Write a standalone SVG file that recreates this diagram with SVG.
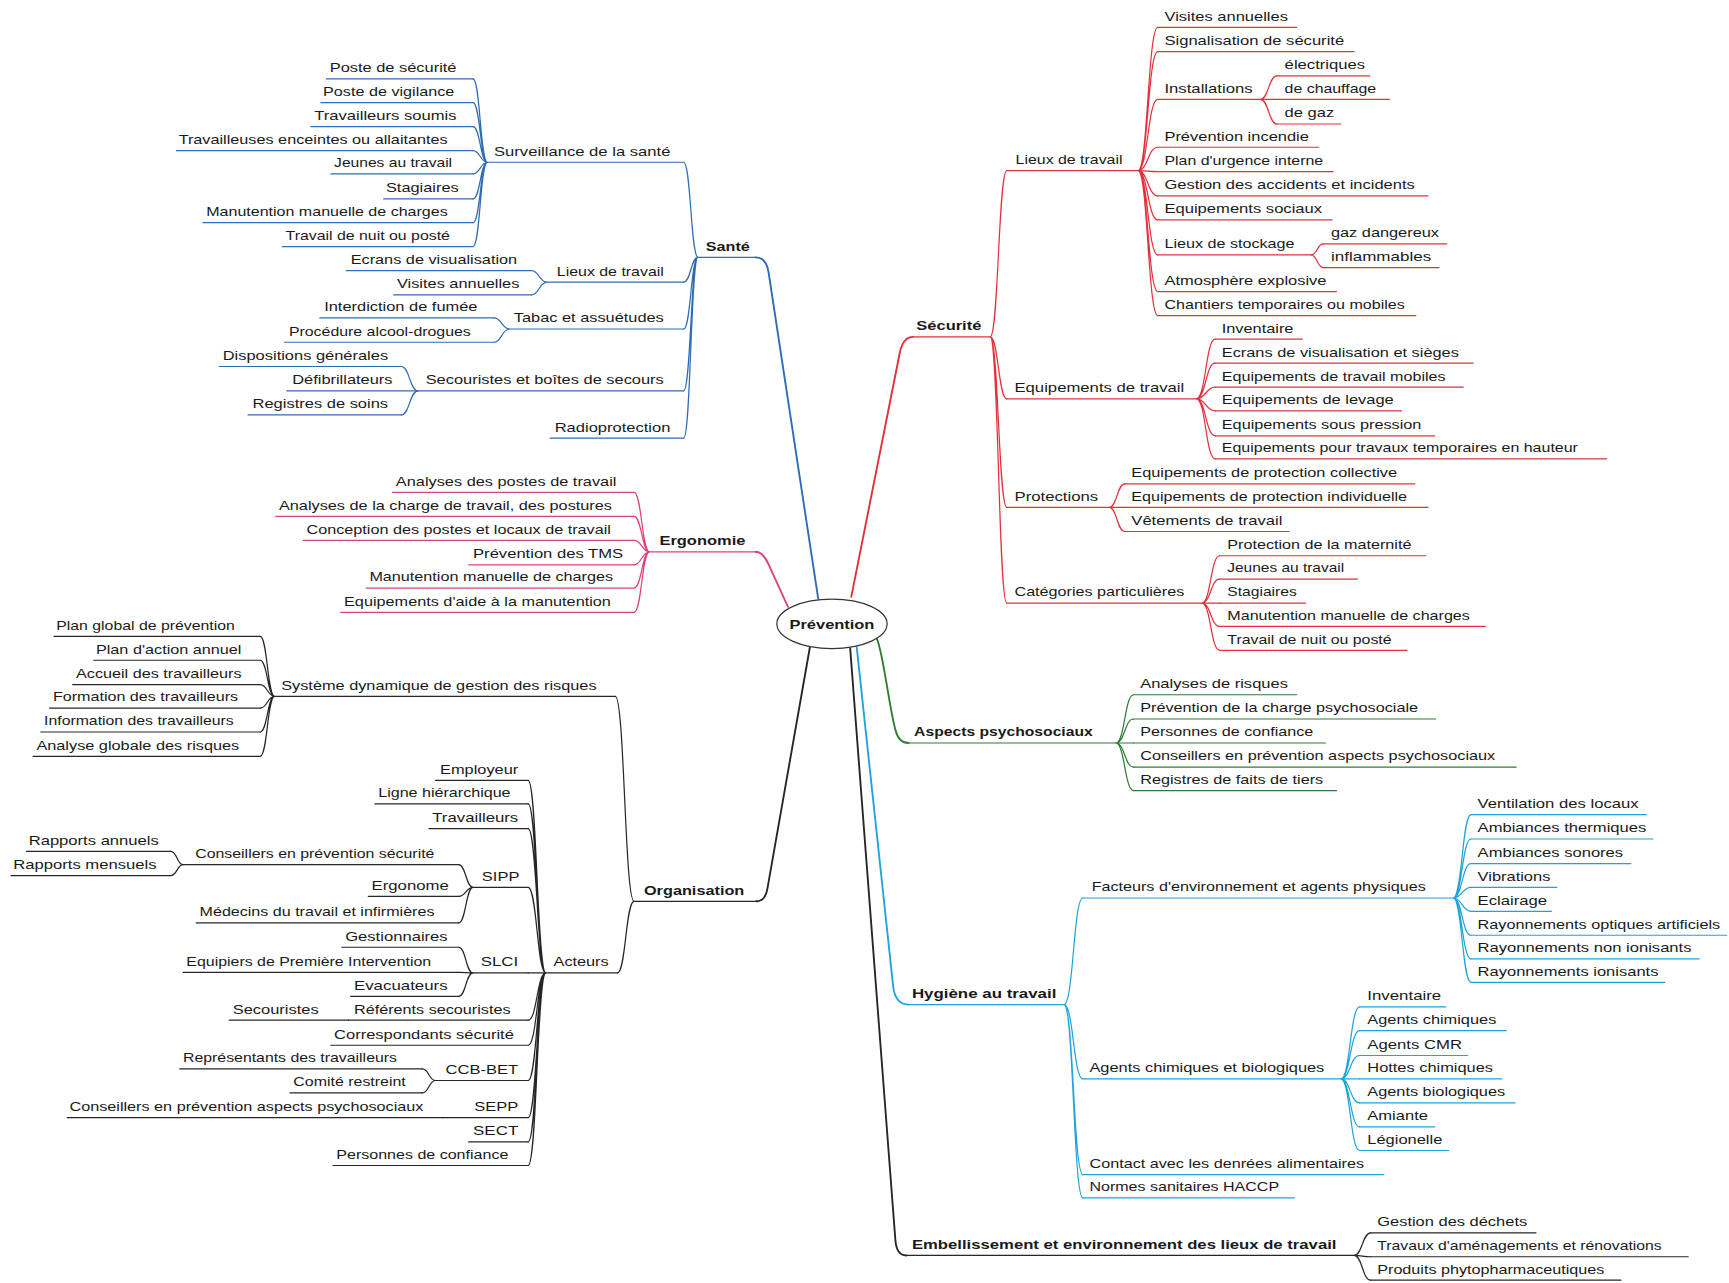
<svg xmlns="http://www.w3.org/2000/svg" width="1729" height="1283" viewBox="0 0 1729 1283">
<style>
text{font-family:"Liberation Sans",Arial,sans-serif;font-size:12.3px;fill:#1a1a1a}
.h{font-weight:bold}
path{fill:none;stroke-width:1.1;stroke-linecap:round}
.bl path,path.bl{stroke:#2e6db4}
.pk path,path.pk{stroke:#e0417e}
.kk path,path.kk{stroke:#262626}
.rd path,path.rd{stroke:#e3303b}
.gr path,path.gr{stroke:#2f7d35}
.cy path,path.cy{stroke:#1ea3dc}
path.m{stroke-width:1.7}
</style>
<rect width="1729" height="1283" fill="#fff"/>
<g transform="scale(1.10268,1.10223)">
<g id="connectors">
<path class="bl m" d="M685,233.5 Q695,233.5 697,247 L742,543"/>
<path class="pk m" d="M685,500.6 Q692,500.6 697,512 L714.6,550.5"/>
<path class="kk m" d="M686,817.7 Q694,817.7 696,806 L734.5,587"/>
<path class="rd m" d="M772,541.5 L816,320 Q819,305.6 828,305.6"/>
<path class="gr m" d="M795,579 C801,592 806,640 812,662 Q815,674.1 824,674.1"/>
<path class="kk m" d="M771,588 L812,1125 Q813,1139 822,1139"/>
<path class="cy m" d="M777,587.5 L810,895 Q812,911.4 824,911.4"/>
<!-- Santé -->
<path class="bl" d="M620,147.2C626.5,147.2 626.5,233.5 633,233.5M620,256C626.5,256 626.5,233.5 633,233.5M620,298.5C626.5,298.5 626.5,233.5 633,233.5M620,354.6C626.5,354.6 626.5,233.5 633,233.5M620,397.5C626.5,397.5 626.5,233.5 633,233.5"/>
<path class="bl" d="M429,71.6C435.5,71.6 435.5,147.2 442,147.2M429,93.1C435.5,93.1 435.5,147.2 442,147.2M429,114.9C435.5,114.9 435.5,147.2 442,147.2M429,136.7C435.5,136.7 435.5,147.2 442,147.2M429,157.8C435.5,157.8 435.5,147.2 442,147.2M429,180.5C435.5,180.5 435.5,147.2 442,147.2M429,202C435.5,202 435.5,147.2 442,147.2M429,223.7C435.5,223.7 435.5,147.2 442,147.2"/>
<path class="bl" d="M482,245.5C489,245.5 489,256 496,256M482,267.5C489,267.5 489,256 496,256M448,288.4C455,288.4 455,298.5 462,298.5M448,310.5C455,310.5 455,298.5 462,298.5M364,332.5C371.5,332.5 371.5,354.6 379,354.6M364,376.4C371.5,376.4 371.5,354.6 379,354.6"/>
<!-- Ergonomie -->
<path class="pk" d="M575,446.8C582,446.8 582,500.6 589,500.6M575,468.5C582,468.5 582,500.6 589,500.6M575,490.3C582,490.3 582,500.6 589,500.6M575,512.4C582,512.4 582,500.6 589,500.6M575,533.5C582,533.5 582,500.6 589,500.6M575,555.6C582,555.6 582,500.6 589,500.6"/>
<!-- Organisation -->
<path class="kk" d="M558,631.8C566.5,631.8 566.5,817.7 575,817.7M560,882.7C567.5,882.7 567.5,817.7 575,817.7"/>
<path class="kk" d="M236,577.4C242.5,577.4 242.5,631.8 249,631.8M236,599C242.5,599 242.5,631.8 249,631.8M236,621.2C242.5,621.2 242.5,631.8 249,631.8M236,642.4C242.5,642.4 242.5,631.8 249,631.8M236,664.1C242.5,664.1 242.5,631.8 249,631.8M236,686.2C242.5,686.2 242.5,631.8 249,631.8"/>
<path class="kk" d="M479,708C487,708 487,882.7 495,882.7M479,729.4C487,729.4 487,882.7 495,882.7M479,751.8C487,751.8 487,882.7 495,882.7M479,805C487,805 487,882.7 495,882.7M479,882.7L495,882.7M479,925.6C487,925.6 487,882.7 495,882.7M479,948.3C487,948.3 487,882.7 495,882.7M479,980.3C487,980.3 487,882.7 495,882.7M479,1014C487,1014 487,882.7 495,882.7M479,1036C487,1036 487,882.7 495,882.7M479,1057.4C487,1057.4 487,882.7 495,882.7"/>
<path class="kk" d="M416,784.5C422.5,784.5 422.5,805 429,805M416,813.2C422.5,813.2 422.5,805 429,805M416,837.3C422.5,837.3 422.5,805 429,805M155,772.4C160.5,772.4 160.5,784.5 166,784.5M155,794.4C160.5,794.4 160.5,784.5 166,784.5M416,859.4C422.5,859.4 422.5,882.7 429,882.7M416,882.1C422.5,882.1 422.5,882.7 429,882.7M416,903.9C422.5,903.9 422.5,882.7 429,882.7M383,969.7C389,969.7 389,980.3 395,980.3M383,991.5C389,991.5 389,980.3 395,980.3"/>
<!-- Sécurité -->
<path class="rd" d="M898,305.6C905.5,305.6 905.5,154.8 913,154.8M898,305.6C905.5,305.6 905.5,361.8 913,361.8M898,305.6C905.5,305.6 905.5,460.4 913,460.4M898,305.6C905.5,305.6 905.5,547.1 913,547.1"/>
<path class="rd" d="M1032,154.8C1041,154.8 1041,24.8 1050,24.8M1032,154.8C1041,154.8 1041,46.9 1050,46.9M1032,154.8C1041,154.8 1041,90.1 1050,90.1M1032,154.8C1041,154.8 1041,133.6 1050,133.6M1032,154.8C1041,154.8 1041,155.7 1050,155.7M1032,154.8C1041,154.8 1041,177.7 1050,177.7M1032,154.8C1041,154.8 1041,199.5 1050,199.5M1032,154.8C1041,154.8 1041,231.3 1050,231.3M1032,154.8C1041,154.8 1041,264.5 1050,264.5M1032,154.8C1041,154.8 1041,286.3 1050,286.3"/>
<path class="rd" d="M1143,90.1C1150.5,90.1 1150.5,68.9 1158,68.9M1143,90.1L1158,90.1M1143,90.1C1150.5,90.1 1150.5,112.5 1158,112.5M1189,231.3C1194.5,231.3 1194.5,221.3 1200,221.3M1189,231.3C1194.5,231.3 1194.5,242.8 1200,242.8"/>
<path class="rd" d="M1085,361.8C1093.5,361.8 1093.5,307.7 1102,307.7M1085,361.8C1093.5,361.8 1093.5,329.5 1102,329.5M1085,361.8C1093.5,361.8 1093.5,351.3 1102,351.3M1085,361.8C1093.5,361.8 1093.5,372.7 1102,372.7M1085,361.8C1093.5,361.8 1093.5,395.4 1102,395.4M1085,361.8C1093.5,361.8 1093.5,416.3 1102,416.3"/>
<path class="rd" d="M1006,460.4C1013,460.4 1013,439 1020,439M1006,460.4L1020,460.4M1006,460.4C1013,460.4 1013,482.2 1020,482.2"/>
<path class="rd" d="M1090,547.1C1098,547.1 1098,504.2 1106,504.2M1090,547.1C1098,547.1 1098,525.4 1106,525.4M1090,547.1L1106,547.1M1090,547.1C1098,547.1 1098,568.3 1106,568.3M1090,547.1C1098,547.1 1098,590 1106,590"/>
<!-- Aspects -->
<path class="gr" d="M1012,674.1C1020,674.1 1020,630.3 1028,630.3M1012,674.1C1020,674.1 1020,652.3 1028,652.3M1012,674.1L1028,674.1M1012,674.1C1020,674.1 1020,695.9 1028,695.9M1012,674.1C1020,674.1 1020,717.3 1028,717.3"/>
<!-- Hygiène -->
<path class="cy" d="M965,911.4C973.5,911.4 973.5,814.7 982,814.7M965,911.4C973.5,911.4 973.5,978.8 982,978.8M965,911.4C973.5,911.4 973.5,1065.6 982,1065.6M965,911.4C973.5,911.4 973.5,1086.7 982,1086.7"/>
<path class="cy" d="M1318,814.7C1326,814.7 1326,739.1 1334,739.1M1318,814.7C1326,814.7 1326,761.2 1334,761.2M1318,814.7C1326,814.7 1326,783.5 1334,783.5M1318,814.7C1326,814.7 1326,805 1334,805M1318,814.7C1326,814.7 1326,826.8 1334,826.8M1318,814.7C1326,814.7 1326,848.5 1334,848.5M1318,814.7C1326,814.7 1326,870 1334,870M1318,814.7C1326,814.7 1326,891.2 1334,891.2"/>
<path class="cy" d="M1216,978.8C1224.5,978.8 1224.5,913.5 1233,913.5M1216,978.8C1224.5,978.8 1224.5,935 1233,935M1216,978.8C1224.5,978.8 1224.5,957.6 1233,957.6M1216,978.8L1233,978.8M1216,978.8C1224.5,978.8 1224.5,1000.6 1233,1000.6M1216,978.8C1224.5,978.8 1224.5,1022.3 1233,1022.3M1216,978.8C1224.5,978.8 1224.5,1043.8 1233,1043.8"/>
<!-- Embellissement -->
<path class="kk" d="M1228,1139C1235.5,1139 1235.5,1118.5 1243,1118.5M1228,1139C1235.5,1139 1235.5,1140.2 1243,1140.2M1228,1139C1235.5,1139 1235.5,1161.4 1243,1161.4"/>
</g>

<g id="prevention"><ellipse cx="754.5" cy="566" rx="50" ry="22.5" fill="#fff" stroke="#333" stroke-width="1.1"/><text class="h" x="716" y="570.5" textLength="77" lengthAdjust="spacingAndGlyphs">Prévention</text></g>

<!-- SANTE -->
<g class="bl">
<g id="sante"><text class="h" x="640" y="227.5" textLength="40" lengthAdjust="spacingAndGlyphs">Santé</text><path d="M633,233.5H685"/></g>
<g id="s-surv"><text x="448" y="141.2" textLength="160" lengthAdjust="spacingAndGlyphs">Surveillance de la santé</text><path d="M442,147.2H620"/></g>
<g id="s-surv-1"><text x="299" y="65.6" textLength="115" lengthAdjust="spacingAndGlyphs">Poste de sécurité</text><path d="M296,71.6H429"/></g>
<g id="s-surv-2"><text x="293" y="87.1" textLength="119" lengthAdjust="spacingAndGlyphs">Poste de vigilance</text><path d="M291,93.1H429"/></g>
<g id="s-surv-3"><text x="285" y="108.9" textLength="129" lengthAdjust="spacingAndGlyphs">Travailleurs soumis</text><path d="M282,114.9H429"/></g>
<g id="s-surv-4"><text x="162" y="130.7" textLength="244" lengthAdjust="spacingAndGlyphs">Travailleuses enceintes ou allaitantes</text><path d="M160,136.7H429"/></g>
<g id="s-surv-5"><text x="303" y="151.8" textLength="107" lengthAdjust="spacingAndGlyphs">Jeunes au travail</text><path d="M300,157.8H429"/></g>
<g id="s-surv-6"><text x="350" y="174.5" textLength="66" lengthAdjust="spacingAndGlyphs">Stagiaires</text><path d="M348,180.5H429"/></g>
<g id="s-surv-7"><text x="187" y="196" textLength="219" lengthAdjust="spacingAndGlyphs">Manutention manuelle de charges</text><path d="M184,202H429"/></g>
<g id="s-surv-8"><text x="259" y="217.7" textLength="149" lengthAdjust="spacingAndGlyphs">Travail de nuit ou posté</text><path d="M256,223.7H429"/></g>
<g id="s-lieux"><text x="505" y="250" textLength="97" lengthAdjust="spacingAndGlyphs">Lieux de travail</text><path d="M496,256H620"/></g>
<g id="s-lieux-1"><text x="318" y="239.5" textLength="151" lengthAdjust="spacingAndGlyphs">Ecrans de visualisation</text><path d="M314,245.5H482"/></g>
<g id="s-lieux-2"><text x="360" y="261.5" textLength="111" lengthAdjust="spacingAndGlyphs">Visites annuelles</text><path d="M357,267.5H482"/></g>
<g id="s-tabac"><text x="466" y="292.5" textLength="136" lengthAdjust="spacingAndGlyphs">Tabac et assuétudes</text><path d="M462,298.5H620"/></g>
<g id="s-tabac-1"><text x="294" y="282.4" textLength="139" lengthAdjust="spacingAndGlyphs">Interdiction de fumée</text><path d="M290,288.4H448"/></g>
<g id="s-tabac-2"><text x="262" y="304.5" textLength="165" lengthAdjust="spacingAndGlyphs">Procédure alcool-drogues</text><path d="M258,310.5H448"/></g>
<g id="s-secours"><text x="386" y="348.6" textLength="216" lengthAdjust="spacingAndGlyphs">Secouristes et boîtes de secours</text><path d="M379,354.6H620"/></g>
<g id="s-secours-1"><text x="202" y="326.5" textLength="150" lengthAdjust="spacingAndGlyphs">Dispositions générales</text><path d="M199,332.5H364"/></g>
<g id="s-secours-2"><text x="265" y="348.6" textLength="91" lengthAdjust="spacingAndGlyphs">Défibrillateurs</text><path d="M260,354.6H379"/></g>
<g id="s-secours-3"><text x="229" y="370.4" textLength="123" lengthAdjust="spacingAndGlyphs">Registres de soins</text><path d="M225,376.4H364"/></g>
<g id="s-radio"><text x="503" y="391.5" textLength="105" lengthAdjust="spacingAndGlyphs">Radioprotection</text><path d="M499,397.5H620"/></g>
</g>

<!-- ERGONOMIE -->
<g class="pk">
<g id="ergonomie"><text class="h" x="598" y="494.6" textLength="78" lengthAdjust="spacingAndGlyphs">Ergonomie</text><path d="M589,500.6H685"/></g>
<g id="e-1"><text x="359" y="440.8" textLength="200" lengthAdjust="spacingAndGlyphs">Analyses des postes de travail</text><path d="M356,446.8H575"/></g>
<g id="e-2"><text x="253" y="462.5" textLength="302" lengthAdjust="spacingAndGlyphs">Analyses de la charge de travail, des postures</text><path d="M250,468.5H575"/></g>
<g id="e-3"><text x="278" y="484.3" textLength="276" lengthAdjust="spacingAndGlyphs">Conception des postes et locaux de travail</text><path d="M275,490.3H575"/></g>
<g id="e-4"><text x="429" y="506.4" textLength="136" lengthAdjust="spacingAndGlyphs">Prévention des TMS</text><path d="M425,512.4H575"/></g>
<g id="e-5"><text x="335" y="527.5" textLength="221" lengthAdjust="spacingAndGlyphs">Manutention manuelle de charges</text><path d="M332,533.5H575"/></g>
<g id="e-6"><text x="312" y="549.6" textLength="242" lengthAdjust="spacingAndGlyphs">Equipements d'aide à la manutention</text><path d="M309,555.6H575"/></g>
</g>

<!-- ORGANISATION -->
<g class="kk">
<g id="organisation"><text class="h" x="584" y="811.7" textLength="91" lengthAdjust="spacingAndGlyphs">Organisation</text><path d="M575,817.7H686"/></g>
<g id="o-sys"><text x="255" y="625.8" textLength="286" lengthAdjust="spacingAndGlyphs">Système dynamique de gestion des risques</text><path d="M249,631.8H558"/></g>
<g id="o-sys-1"><text x="51" y="571.4" textLength="162" lengthAdjust="spacingAndGlyphs">Plan global de prévention</text><path d="M49,577.4H236"/></g>
<g id="o-sys-2"><text x="87" y="593" textLength="132" lengthAdjust="spacingAndGlyphs">Plan d'action annuel</text><path d="M85,599H236"/></g>
<g id="o-sys-3"><text x="69" y="615.2" textLength="150" lengthAdjust="spacingAndGlyphs">Accueil des travailleurs</text><path d="M66,621.2H236"/></g>
<g id="o-sys-4"><text x="48" y="636.4" textLength="168" lengthAdjust="spacingAndGlyphs">Formation des travailleurs</text><path d="M45,642.4H236"/></g>
<g id="o-sys-5"><text x="40" y="658.1" textLength="172" lengthAdjust="spacingAndGlyphs">Information des travailleurs</text><path d="M37,664.1H236"/></g>
<g id="o-sys-6"><text x="33" y="680.2" textLength="184" lengthAdjust="spacingAndGlyphs">Analyse globale des risques</text><path d="M30,686.2H236"/></g>
<g id="o-acteurs"><text x="502" y="876.7" textLength="50" lengthAdjust="spacingAndGlyphs">Acteurs</text><path d="M495,882.7H560"/></g>
<g id="o-a-employeur"><text x="399" y="702" textLength="71" lengthAdjust="spacingAndGlyphs">Employeur</text><path d="M395,708H479"/></g>
<g id="o-a-ligne"><text x="343" y="723.4" textLength="120" lengthAdjust="spacingAndGlyphs">Ligne hiérarchique</text><path d="M340,729.4H479"/></g>
<g id="o-a-travailleurs"><text x="392" y="745.8" textLength="78" lengthAdjust="spacingAndGlyphs">Travailleurs</text><path d="M389,751.8H479"/></g>
<g id="o-a-sipp"><text x="437" y="799" textLength="34" lengthAdjust="spacingAndGlyphs">SIPP</text><path d="M429,805H479"/></g>
<g id="o-sipp-cps"><text x="177" y="778.5" textLength="217" lengthAdjust="spacingAndGlyphs">Conseillers en prévention sécurité</text><path d="M166,784.5H416"/></g>
<g id="o-cps-1"><text x="26" y="766.4" textLength="118" lengthAdjust="spacingAndGlyphs">Rapports annuels</text><path d="M24,772.4H155"/></g>
<g id="o-cps-2"><text x="12" y="788.4" textLength="130" lengthAdjust="spacingAndGlyphs">Rapports mensuels</text><path d="M10,794.4H155"/></g>
<g id="o-sipp-ergonome"><text x="337" y="807.2" textLength="70" lengthAdjust="spacingAndGlyphs">Ergonome</text><path d="M334,813.2H416"/></g>
<g id="o-sipp-medecins"><text x="181" y="831.3" textLength="213" lengthAdjust="spacingAndGlyphs">Médecins du travail et infirmières</text><path d="M178,837.3H416"/></g>
<g id="o-a-slci"><text x="436" y="876.7" textLength="34" lengthAdjust="spacingAndGlyphs">SLCI</text><path d="M429,882.7H479"/></g>
<g id="o-slci-1"><text x="313" y="853.4" textLength="93" lengthAdjust="spacingAndGlyphs">Gestionnaires</text><path d="M310,859.4H416"/></g>
<g id="o-slci-2"><text x="169" y="876.1" textLength="222" lengthAdjust="spacingAndGlyphs">Equipiers de Première Intervention</text><path d="M166,882.1H416"/></g>
<g id="o-slci-3"><text x="321" y="897.9" textLength="85" lengthAdjust="spacingAndGlyphs">Evacuateurs</text><path d="M318,903.9H416"/></g>
<g id="o-a-referents"><text x="321" y="919.6" textLength="142" lengthAdjust="spacingAndGlyphs">Référents secouristes</text><path d="M316,925.6H479"/></g>
<g id="o-ref-secouristes"><text x="211" y="919.6" textLength="78" lengthAdjust="spacingAndGlyphs">Secouristes</text><path d="M208,925.6H316"/></g>
<g id="o-a-correspondants"><text x="303" y="942.3" textLength="163" lengthAdjust="spacingAndGlyphs">Correspondants sécurité</text><path d="M300,948.3H479"/></g>
<g id="o-a-ccb"><text x="404" y="974.3" textLength="66" lengthAdjust="spacingAndGlyphs">CCB-BET</text><path d="M395,980.3H479"/></g>
<g id="o-ccb-1"><text x="166" y="963.7" textLength="194" lengthAdjust="spacingAndGlyphs">Représentants des travailleurs</text><path d="M163,969.7H383"/></g>
<g id="o-ccb-2"><text x="266" y="985.5" textLength="102" lengthAdjust="spacingAndGlyphs">Comité restreint</text><path d="M263,991.5H383"/></g>
<g id="o-a-sepp"><text x="430" y="1008" textLength="40" lengthAdjust="spacingAndGlyphs">SEPP</text><path d="M402,1014H479"/></g>
<g id="o-sepp-1"><text x="63" y="1008" textLength="321" lengthAdjust="spacingAndGlyphs">Conseillers en prévention aspects psychosociaux</text><path d="M61,1014H402"/></g>
<g id="o-a-sect"><text x="429" y="1030" textLength="41" lengthAdjust="spacingAndGlyphs">SECT</text><path d="M425,1036H479"/></g>
<g id="o-a-personnes"><text x="305" y="1051.4" textLength="156" lengthAdjust="spacingAndGlyphs">Personnes de confiance</text><path d="M302,1057.4H479"/></g>
</g>

<!-- SECURITE -->
<g class="rd">
<g id="securite"><text class="h" x="831" y="299.6" textLength="59" lengthAdjust="spacingAndGlyphs">Sécurité</text><path d="M828,305.6H898"/></g>
<g id="r-lieux"><text x="921" y="148.8" textLength="97" lengthAdjust="spacingAndGlyphs">Lieux de travail</text><path d="M913,154.8H1032"/></g>
<g id="r-l-1"><text x="1056" y="18.8" textLength="112" lengthAdjust="spacingAndGlyphs">Visites annuelles</text><path d="M1050,24.8H1176"/></g>
<g id="r-l-2"><text x="1056" y="40.9" textLength="163" lengthAdjust="spacingAndGlyphs">Signalisation de sécurité</text><path d="M1050,46.9H1228"/></g>
<g id="r-l-inst"><text x="1056" y="84.1" textLength="80" lengthAdjust="spacingAndGlyphs">Installations</text><path d="M1050,90.1H1143"/></g>
<g id="r-inst-1"><text x="1165" y="62.9" textLength="73" lengthAdjust="spacingAndGlyphs">électriques</text><path d="M1158,68.9H1242"/></g>
<g id="r-inst-2"><text x="1165" y="84.1" textLength="83" lengthAdjust="spacingAndGlyphs">de chauffage</text><path d="M1158,90.1H1260"/></g>
<g id="r-inst-3"><text x="1165" y="106.5" textLength="45" lengthAdjust="spacingAndGlyphs">de gaz</text><path d="M1158,112.5H1216"/></g>
<g id="r-l-3"><text x="1056" y="127.6" textLength="131" lengthAdjust="spacingAndGlyphs">Prévention incendie</text><path d="M1050,133.6H1196"/></g>
<g id="r-l-4"><text x="1056" y="149.7" textLength="144" lengthAdjust="spacingAndGlyphs">Plan d'urgence interne</text><path d="M1050,155.7H1209"/></g>
<g id="r-l-5"><text x="1056" y="171.7" textLength="227" lengthAdjust="spacingAndGlyphs">Gestion des accidents et incidents</text><path d="M1050,177.7H1295"/></g>
<g id="r-l-6"><text x="1056" y="193.5" textLength="143" lengthAdjust="spacingAndGlyphs">Equipements sociaux</text><path d="M1050,199.5H1208"/></g>
<g id="r-l-stock"><text x="1056" y="225.3" textLength="118" lengthAdjust="spacingAndGlyphs">Lieux de stockage</text><path d="M1050,231.3H1189"/></g>
<g id="r-stock-1"><text x="1207" y="215.3" textLength="98" lengthAdjust="spacingAndGlyphs">gaz dangereux</text><path d="M1200,221.3H1312"/></g>
<g id="r-stock-2"><text x="1207" y="236.8" textLength="91" lengthAdjust="spacingAndGlyphs">inflammables</text><path d="M1200,242.8H1305"/></g>
<g id="r-l-7"><text x="1056" y="258.5" textLength="147" lengthAdjust="spacingAndGlyphs">Atmosphère explosive</text><path d="M1050,264.5H1212"/></g>
<g id="r-l-8"><text x="1056" y="280.3" textLength="218" lengthAdjust="spacingAndGlyphs">Chantiers temporaires ou mobiles</text><path d="M1050,286.3H1284"/></g>
<g id="r-equip"><text x="920" y="355.8" textLength="154" lengthAdjust="spacingAndGlyphs">Equipements de travail</text><path d="M913,361.8H1085"/></g>
<g id="r-eq-1"><text x="1108" y="301.7" textLength="65" lengthAdjust="spacingAndGlyphs">Inventaire</text><path d="M1102,307.7H1181"/></g>
<g id="r-eq-2"><text x="1108" y="323.5" textLength="215" lengthAdjust="spacingAndGlyphs">Ecrans de visualisation et sièges</text><path d="M1102,329.5H1336"/></g>
<g id="r-eq-3"><text x="1108" y="345.3" textLength="203" lengthAdjust="spacingAndGlyphs">Equipements de travail mobiles</text><path d="M1102,351.3H1327"/></g>
<g id="r-eq-4"><text x="1108" y="366.7" textLength="156" lengthAdjust="spacingAndGlyphs">Equipements de levage</text><path d="M1102,372.7H1271"/></g>
<g id="r-eq-5"><text x="1108" y="389.4" textLength="181" lengthAdjust="spacingAndGlyphs">Equipements sous pression</text><path d="M1102,395.4H1301"/></g>
<g id="r-eq-6"><text x="1108" y="410.3" textLength="323" lengthAdjust="spacingAndGlyphs">Equipements pour travaux temporaires en hauteur</text><path d="M1102,416.3H1457"/></g>
<g id="r-prot"><text x="920" y="454.4" textLength="76" lengthAdjust="spacingAndGlyphs">Protections</text><path d="M913,460.4H1006"/></g>
<g id="r-prot-1"><text x="1026" y="433" textLength="241" lengthAdjust="spacingAndGlyphs">Equipements de protection collective</text><path d="M1020,439H1283"/></g>
<g id="r-prot-2"><text x="1026" y="454.4" textLength="250" lengthAdjust="spacingAndGlyphs">Equipements de protection individuelle</text><path d="M1020,460.4H1295"/></g>
<g id="r-prot-3"><text x="1026" y="476.2" textLength="137" lengthAdjust="spacingAndGlyphs">Vêtements de travail</text><path d="M1020,482.2H1169"/></g>
<g id="r-cat"><text x="920" y="541.1" textLength="154" lengthAdjust="spacingAndGlyphs">Catégories particulières</text><path d="M913,547.1H1090"/></g>
<g id="r-cat-1"><text x="1113" y="498.2" textLength="167" lengthAdjust="spacingAndGlyphs">Protection de la maternité</text><path d="M1106,504.2H1293"/></g>
<g id="r-cat-2"><text x="1113" y="519.4" textLength="106" lengthAdjust="spacingAndGlyphs">Jeunes au travail</text><path d="M1106,525.4H1231"/></g>
<g id="r-cat-3"><text x="1113" y="541.1" textLength="63" lengthAdjust="spacingAndGlyphs">Stagiaires</text><path d="M1106,547.1H1184"/></g>
<g id="r-cat-4"><text x="1113" y="562.3" textLength="220" lengthAdjust="spacingAndGlyphs">Manutention manuelle de charges</text><path d="M1106,568.3H1347"/></g>
<g id="r-cat-5"><text x="1113" y="584" textLength="149" lengthAdjust="spacingAndGlyphs">Travail de nuit ou posté</text><path d="M1106,590H1276"/></g>
</g>

<!-- ASPECTS PSYCHOSOCIAUX -->
<g class="gr">
<g id="aspects"><text class="h" x="829" y="668.1" textLength="162" lengthAdjust="spacingAndGlyphs">Aspects psychosociaux</text><path d="M824,674.1H1012"/></g>
<g id="g-1"><text x="1034" y="624.3" textLength="134" lengthAdjust="spacingAndGlyphs">Analyses de risques</text><path d="M1028,630.3H1176"/></g>
<g id="g-2"><text x="1034" y="646.3" textLength="252" lengthAdjust="spacingAndGlyphs">Prévention de la charge psychosociale</text><path d="M1028,652.3H1302"/></g>
<g id="g-3"><text x="1034" y="668.1" textLength="157" lengthAdjust="spacingAndGlyphs">Personnes de confiance</text><path d="M1028,674.1H1202"/></g>
<g id="g-4"><text x="1034" y="689.9" textLength="322" lengthAdjust="spacingAndGlyphs">Conseillers en prévention aspects psychosociaux</text><path d="M1028,695.9H1375"/></g>
<g id="g-5"><text x="1034" y="711.3" textLength="166" lengthAdjust="spacingAndGlyphs">Registres de faits de tiers</text><path d="M1028,717.3H1212"/></g>
</g>

<!-- HYGIENE -->
<g class="cy">
<g id="hygiene"><text class="h" x="827" y="905.4" textLength="131" lengthAdjust="spacingAndGlyphs">Hygiène au travail</text><path d="M824,911.4H965"/></g>
<g id="h-facteurs"><text x="990" y="808.7" textLength="303" lengthAdjust="spacingAndGlyphs">Facteurs d'environnement et agents physiques</text><path d="M982,814.7H1318"/></g>
<g id="h-f-1"><text x="1340" y="733.1" textLength="146" lengthAdjust="spacingAndGlyphs">Ventilation des locaux</text><path d="M1334,739.1H1493"/></g>
<g id="h-f-2"><text x="1340" y="755.2" textLength="153" lengthAdjust="spacingAndGlyphs">Ambiances thermiques</text><path d="M1334,761.2H1499"/></g>
<g id="h-f-3"><text x="1340" y="777.5" textLength="132" lengthAdjust="spacingAndGlyphs">Ambiances sonores</text><path d="M1334,783.5H1479"/></g>
<g id="h-f-4"><text x="1340" y="799" textLength="66" lengthAdjust="spacingAndGlyphs">Vibrations</text><path d="M1334,805H1412"/></g>
<g id="h-f-5"><text x="1340" y="820.8" textLength="63" lengthAdjust="spacingAndGlyphs">Eclairage</text><path d="M1334,826.8H1407"/></g>
<g id="h-f-6"><text x="1340" y="842.5" textLength="220" lengthAdjust="spacingAndGlyphs">Rayonnements optiques artificiels</text><path d="M1334,848.5H1566"/></g>
<g id="h-f-7"><text x="1340" y="864" textLength="194" lengthAdjust="spacingAndGlyphs">Rayonnements non ionisants</text><path d="M1334,870H1541"/></g>
<g id="h-f-8"><text x="1340" y="885.2" textLength="164" lengthAdjust="spacingAndGlyphs">Rayonnements ionisants</text><path d="M1334,891.2H1510"/></g>
<g id="h-agents"><text x="988" y="972.8" textLength="213" lengthAdjust="spacingAndGlyphs">Agents chimiques et biologiques</text><path d="M982,978.8H1216"/></g>
<g id="h-a-1"><text x="1240" y="907.5" textLength="67" lengthAdjust="spacingAndGlyphs">Inventaire</text><path d="M1233,913.5H1311"/></g>
<g id="h-a-2"><text x="1240" y="929" textLength="117" lengthAdjust="spacingAndGlyphs">Agents chimiques</text><path d="M1233,935H1366"/></g>
<g id="h-a-3"><text x="1240" y="951.6" textLength="86" lengthAdjust="spacingAndGlyphs">Agents CMR</text><path d="M1233,957.6H1331"/></g>
<g id="h-a-4"><text x="1240" y="972.8" textLength="114" lengthAdjust="spacingAndGlyphs">Hottes chimiques</text><path d="M1233,978.8H1362"/></g>
<g id="h-a-5"><text x="1240" y="994.6" textLength="125" lengthAdjust="spacingAndGlyphs">Agents biologiques</text><path d="M1233,1000.6H1374"/></g>
<g id="h-a-6"><text x="1240" y="1016.3" textLength="55" lengthAdjust="spacingAndGlyphs">Amiante</text><path d="M1233,1022.3H1301"/></g>
<g id="h-a-7"><text x="1240" y="1037.8" textLength="68" lengthAdjust="spacingAndGlyphs">Légionelle</text><path d="M1233,1043.8H1314"/></g>
<g id="h-contact"><text x="988" y="1059.6" textLength="249" lengthAdjust="spacingAndGlyphs">Contact avec les denrées alimentaires</text><path d="M982,1065.6H1255"/></g>
<g id="h-normes"><text x="988" y="1080.7" textLength="172" lengthAdjust="spacingAndGlyphs">Normes sanitaires HACCP</text><path d="M982,1086.7H1174"/></g>
</g>

<!-- EMBELLISSEMENT -->
<g class="kk">
<g id="embellissement"><text class="h" x="827" y="1133" textLength="385" lengthAdjust="spacingAndGlyphs">Embellissement et environnement des lieux de travail</text><path d="M822,1139H1228"/></g>
<g id="emb-1"><text x="1249" y="1112.5" textLength="136" lengthAdjust="spacingAndGlyphs">Gestion des déchets</text><path d="M1243,1118.5H1393"/></g>
<g id="emb-2"><text x="1249" y="1134.2" textLength="258" lengthAdjust="spacingAndGlyphs">Travaux d'aménagements et rénovations</text><path d="M1243,1140.2H1531"/></g>
<g id="emb-3"><text x="1249" y="1155.4" textLength="206" lengthAdjust="spacingAndGlyphs">Produits phytopharmaceutiques</text><path d="M1243,1161.4H1470"/></g>
</g>
</g>
</svg>
